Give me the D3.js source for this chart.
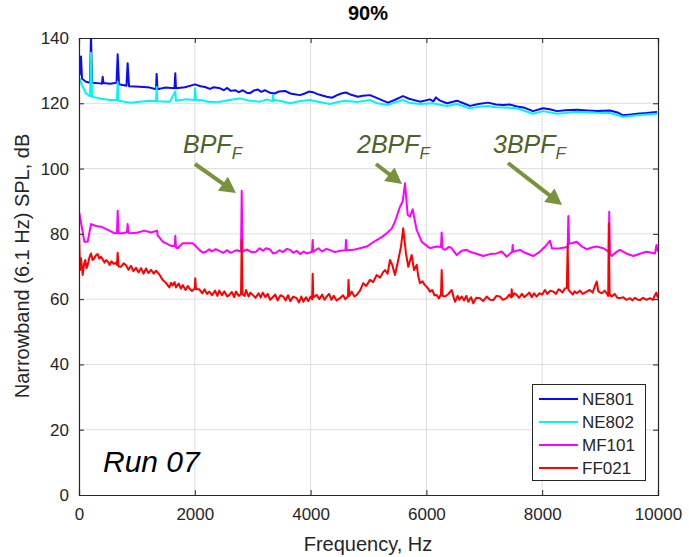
<!DOCTYPE html>
<html><head><meta charset="utf-8">
<script src="https://cdn.jsdelivr.net/npm/d3@7/dist/d3.min.js"></script>
<style>body{margin:0;background:#fff}svg{display:block}</style>
</head><body>
<script>
const seriesNames = ["NE801","NE802","MF101","FF021"];
const seriesColors = ["#0a0aff","#00f5f5","#ff00ff","#ff0000"];
const xTicks = [0,2000,4000,6000,8000,10000];
const yTicks = [0,20,40,60,80,100,120,140];

const ne801F = [10,35,52,121,190,207,225,363,397,409,423,535,648,668,691,820,840,864,1053,1226,1330,1341,1356,1485,1649,1663,1675,1830,2003,2100,2176,2260,2330,2435,2500,2560,2620,2694,2760,2830,2900,2953,3020,3091,3150,3210,3299,3380,3450,3558,3650,3720,3817,3900,3970,4041,4120,4200,4280,4369,4450,4530,4611,4700,4818,4900,5026,5150,5250,5336,5450,5595,5700,5889,6062,6120,6165,6235,6355,6528,6640,6753,6900,7064,7200,7322,7450,7564,7700,7840,8013,8130,8255,8400,8600,8780,8946,9170,9300,9395,9500,9637,9800,9983];
const ne801V = [128.5,134.3,127.5,126.6,126.3,141,126.3,126.1,126.0,128.1,126.2,126.0,126.3,135.0,125.8,125.4,132.3,125.2,125.1,124.8,124.3,129.0,124.3,124.8,124.6,129.2,124.6,124.9,125.8,125.2,125.0,124.4,124.9,124.6,124.0,124.7,123.8,124.0,123.4,124.0,123.2,123.1,123.9,124.2,123.5,124.0,123.2,123.0,123.6,123.8,123.0,122.8,122.5,123.0,123.6,123.4,122.8,122.4,122.0,121.7,122.4,123.0,123.3,122.6,122.0,122.3,122.5,121.6,120.8,120.2,121.0,122.2,121.4,120.5,121.2,120.6,121.8,120.8,120.0,120.8,120.0,119.2,119.8,120.2,119.6,119.5,119.6,119.0,118.6,117.6,118.5,118.2,117.6,117.9,118.0,117.8,117.6,117.8,117.2,116.3,116.5,116.8,117.0,117.3];

const ne802F = [10,52,121,190,207,225,363,535,656,668,682,881,1053,1226,1333,1341,1352,1572,1663,1675,1830,1995,2003,2020,2090,2250,2435,2600,2780,2950,3126,3250,3340,3350,3360,3385,3500,3644,3800,3989,4150,4335,4450,4594,4800,5026,5150,5336,5450,5595,5700,5889,6100,6355,6528,6753,6900,7064,7200,7322,7564,7840,8013,8255,8400,8600,8946,9170,9395,9637,9983];
const ne802V = [127.7,125.5,123.0,122.2,135.5,122.0,121.5,121.0,121.0,126.6,120.8,120.2,120.5,120.8,120.6,125.0,120.6,120.5,123.6,120.8,121.2,121.0,124.6,121.0,121.0,120.4,120.5,121.0,121.5,120.8,120.5,121.2,120.6,122.5,120.6,121.0,120.6,120.0,120.6,121.0,120.4,119.8,120.3,120.8,120.4,121.0,120.0,119.5,120.2,121.0,120.2,119.8,120.0,119.2,119.8,118.5,118.9,119.2,118.8,118.7,118.5,116.8,117.6,116.8,117.0,117.4,117.1,117.0,115.9,116.3,116.8];

const mf101F = [5,92,150,207,294,380,496,610,656,668,682,755,829,840,855,898,1014,1128,1243,1347,1359,1445,1589,1654,1663,1675,1705,1791,1964,2078,2140,2193,2250,2297,2360,2423,2490,2560,2610,2654,2720,2798,2810,2824,2900,2980,3057,3120,3180,3229,3300,3350,3402,3460,3520,3590,3644,3700,3760,3820,3880,3932,4024,4036,4046,4133,4200,4270,4335,4420,4507,4602,4611,4623,4737,4850,4969,5060,5141,5230,5314,5400,5457,5544,5590,5630,5677,5716,5763,5832,5918,6000,6062,6177,6252,6264,6278,6321,6390,6437,6523,6610,6696,6753,6850,6982,7100,7214,7300,7386,7481,7490,7500,7616,7700,7846,7950,8020,8077,8134,8169,8307,8440,8452,8465,8509,8595,8680,8768,8860,8941,9055,9150,9158,9170,9200,9280,9343,9450,9573,9700,9804,9948,9973,10000];
const mf101V = [86.5,77.6,77.6,83.0,82.4,82.2,81.2,80.2,80.2,87.1,80.2,80.2,80.5,83.0,80.3,80.2,80.4,81.0,80.4,81.0,79.5,77.6,76.3,76.3,79.4,75.8,75.6,77.1,77.1,75.1,74.2,74.5,75.3,74.6,75.3,74.8,74.2,75.0,74.2,74.5,75.0,74.6,93.2,74.6,75.2,74.4,74.5,75.6,74.8,75.6,75.2,74.0,74.2,75.0,74.4,75.4,75.1,74.2,74.8,73.8,74.6,74.0,74.5,78.1,74.5,75.6,74.6,75.4,75.0,74.4,74.8,75.0,78.1,75.0,75.1,75.6,76.1,77.2,78.1,79.0,80.2,81.6,83.7,88.3,89.9,95.5,85.8,85.3,87.5,81.2,77.6,76.4,75.6,76.1,76.0,80.4,75.5,75.1,76.0,75.6,73.5,74.8,75.1,74.5,74.0,73.2,73.8,74.0,74.6,73.0,74.5,76.6,74.5,75.1,74.2,73.2,74.4,75.6,76.6,77.9,75.5,75.6,76.0,85.5,77.0,77.1,77.6,76.2,75.3,75.8,76.1,75.6,74.5,86.8,74.0,73.2,74.4,75.1,74.0,73.2,74.0,74.5,74.0,76.6,74.5];

const ff021F = [0,17,35,64,90,109,130,150,180,207,235,264,295,323,350,380,409,440,470,496,530,560,600,640,656,668,682,725,770,812,855,898,940,984,1030,1071,1115,1157,1200,1243,1290,1330,1390,1445,1500,1560,1590,1618,1650,1675,1720,1760,1791,1840,1880,1905,1950,2000,2008,2021,2078,2130,2170,2210,2250,2300,2350,2390,2423,2470,2510,2560,2596,2640,2680,2711,2760,2798,2810,2824,2860,2884,2930,2960,3000,3050,3100,3140,3173,3220,3260,3300,3345,3390,3430,3480,3528,3570,3610,3650,3700,3760,3800,3840,3874,3920,3960,4000,4027,4036,4046,4105,4150,4200,4240,4278,4320,4360,4400,4450,4507,4560,4600,4646,4654,4670,4710,4756,4796,4850,4910,4960,5026,5080,5141,5200,5250,5285,5330,5371,5410,5457,5514,5561,5600,5647,5687,5746,5786,5832,5860,5889,5930,5975,6020,6062,6100,6140,6177,6215,6252,6264,6278,6321,6380,6437,6470,6494,6540,6570,6609,6650,6690,6723,6770,6810,6860,6925,6980,7041,7100,7155,7210,7271,7320,7386,7430,7464,7473,7487,7520,7559,7600,7650,7690,7732,7780,7820,7860,7904,7950,8000,8048,8090,8140,8191,8240,8280,8307,8350,8393,8425,8440,8452,8480,8530,8560,8595,8650,8700,8768,8820,8870,8910,8941,8970,9027,9080,9113,9140,9150,9165,9200,9250,9300,9343,9400,9450,9516,9560,9600,9650,9689,9740,9800,9861,9910,9948,9970,10000];
const ff021V = [81.2,68.9,72.5,67.4,71.0,72.0,69.5,70.5,72.8,74.0,72.0,72.5,73.5,73.8,72.4,73.0,72.2,71.2,72.0,71.5,70.5,71.6,70.8,71.2,70.5,74.2,70.0,69.9,71.0,70.4,69.0,70.2,68.6,69.6,68.2,69.5,67.8,69.4,68.0,69.0,67.8,68.7,67.5,65.9,65.0,63.6,65.0,64.2,65.2,63.6,64.8,63.2,64.3,62.8,64.0,63.3,62.5,63.3,66.4,63.0,63.0,61.8,63.0,61.6,62.3,61.2,62.6,61.0,62.6,61.2,62.4,60.8,61.3,62.2,60.6,62.3,61.0,61.5,78.1,61.5,61.0,62.8,60.8,62.0,61.3,60.4,61.8,60.5,62.0,60.6,61.6,59.8,60.6,61.4,59.6,61.2,60.8,59.6,61.2,59.4,60.8,60.3,59.0,60.8,59.2,60.6,59.4,60.8,60.0,67.8,60.5,61.3,60.0,61.4,59.8,60.8,61.6,59.8,61.0,59.6,60.3,61.2,60.0,60.8,65.9,61.0,62.3,60.8,61.3,62.5,64.9,64.0,65.9,65.2,67.4,66.6,68.2,68.9,67.8,72.0,70.5,67.4,72.0,76.1,81.7,74.0,69.9,73.5,68.9,70.5,67.0,64.9,65.5,64.3,63.5,62.3,62.8,61.2,61.3,60.2,61.5,68.9,61.0,60.8,61.6,62.8,60.6,59.2,61.0,59.8,60.8,59.6,61.0,59.2,60.6,58.7,60.4,60.3,59.4,60.8,59.8,59.7,61.0,60.8,59.8,60.3,61.4,60.5,63.0,60.8,61.8,61.3,60.4,61.6,60.6,61.3,62.0,60.6,61.8,60.8,61.8,61.4,62.8,61.6,62.6,62.3,61.6,63.0,62.8,62.0,63.3,63.5,76.6,63.0,62.3,61.4,62.4,61.8,62.6,61.6,62.3,62.8,62.0,64.0,65.4,62.4,61.8,62.6,61.8,61.0,83.2,61.5,60.8,61.6,60.4,60.3,60.6,59.8,60.3,59.6,60.4,59.8,59.7,60.4,59.8,60.3,59.8,61.3,62.0,60.3];

const annotations = [
  {label:"BPF", pre:"", x:183, y:153, ax1:195, ay1:164, ax2:236, ay2:193},
  {label:"BPF", pre:"2", x:357, y:153, ax1:376, ay1:164, ax2:402, ay2:184},
  {label:"BPF", pre:"3", x:493, y:153, ax1:508, ay1:163, ax2:562, ay2:205}
];

const W = 689, H = 557;
const M = {left:79, right:658, top:38, bottom:495};
const font = "Helvetica, 'Liberation Sans', Arial, sans-serif";
const axisColor = "#262626";

const svg = d3.select("body").append("svg").attr("width",W).attr("height",H);
const x = d3.scaleLinear().domain([0,10000]).range([M.left,M.right]);
const y = d3.scaleLinear().domain([0,140]).range([M.bottom,M.top]);

// grid
svg.append("g").selectAll("line").data(xTicks.slice(1,-1)).join("line")
  .attr("x1",d=>x(d)).attr("x2",d=>x(d)).attr("y1",M.top).attr("y2",M.bottom)
  .attr("stroke","#dedede").attr("stroke-width",1);
svg.append("g").selectAll("line").data(yTicks.slice(1,-1)).join("line")
  .attr("y1",d=>y(d)).attr("y2",d=>y(d)).attr("x1",M.left).attr("x2",M.right)
  .attr("stroke","#dedede").attr("stroke-width",1);

// data
svg.append("clipPath").attr("id","clip").append("rect")
  .attr("x",M.left).attr("y",M.top).attr("width",M.right-M.left).attr("height",M.bottom-M.top);
const series = [[ne801F,ne801V],[ne802F,ne802V],[mf101F,mf101V],[ff021F,ff021V]];
const line = d3.line().x(d=>x(d[0])).y(d=>y(d[1]));
const gData = svg.append("g").attr("clip-path","url(#clip)");
series.forEach((s,i)=>{
  const pts = s[0].map((f,j)=>[f,s[1][j]]);
  gData.append("path").datum(pts).attr("d",line).attr("fill","none")
    .attr("stroke",seriesColors[i]).attr("stroke-width",2).attr("stroke-linejoin","round");
});

// axes
const xAxis = svg.append("g").attr("transform",`translate(0,${M.bottom})`)
  .call(d3.axisBottom(x).tickValues(xTicks).tickSize(-5).tickPadding(13).tickFormat(d3.format("d")));
const xAxisTop = svg.append("g").attr("transform",`translate(0,${M.top})`)
  .call(d3.axisTop(x).tickValues(xTicks).tickSize(-5).tickFormat(""));
const yAxis = svg.append("g").attr("transform",`translate(${M.left},0)`)
  .call(d3.axisLeft(y).tickValues(yTicks).tickSize(-5).tickPadding(10));
const yAxisR = svg.append("g").attr("transform",`translate(${M.right},0)`)
  .call(d3.axisRight(y).tickValues(yTicks).tickSize(-5).tickFormat(""));
[xAxis,xAxisTop,yAxis,yAxisR].forEach(g=>{
  g.select(".domain").attr("stroke",axisColor).attr("stroke-width",1.2);
  g.selectAll(".tick line").attr("stroke",axisColor);
  g.selectAll(".tick text").attr("fill",axisColor).style("font-family",font).style("font-size","17px");
});

// labels
svg.append("text").attr("x",368).attr("y",20).attr("text-anchor","middle")
  .style("font-family",font).style("font-size","20px").style("font-weight","bold").attr("fill","#000").text("90%");
svg.append("text").attr("x",368).attr("y",551).attr("text-anchor","middle")
  .style("font-family",font).style("font-size","20px").attr("fill",axisColor).text("Frequency, Hz");
svg.append("text").attr("transform","translate(29,266) rotate(-90)").attr("text-anchor","middle")
  .style("font-family",font).style("font-size","20px").attr("fill",axisColor).text("Narrowband (6.1 Hz) SPL, dB");
svg.append("text").attr("x",103).attr("y",472).style("font-family",font).style("font-size","30px")
  .style("font-style","italic").attr("fill","#000").text("Run 07");

// annotations
const annColor = "#4f6228", arrowColor = "#77933c";
annotations.forEach(a=>{
  const t = svg.append("text").attr("x",a.x).attr("y",a.y).style("font-family",font)
    .style("font-style","italic").attr("fill",annColor);
  t.append("tspan").style("font-size","25px").text(a.pre + a.label);
  t.append("tspan").style("font-size","17px").attr("dy",6).text("F");
  const dx = a.ax2-a.ax1, dy = a.ay2-a.ay1, L = Math.hypot(dx,dy);
  const ux = dx/L, uy = dy/L, hl = 16, hw = 8.5;
  const bx = a.ax2-ux*hl, by = a.ay2-uy*hl;
  svg.append("line").attr("x1",a.ax1).attr("y1",a.ay1).attr("x2",bx+ux*2).attr("y2",by+uy*2)
    .attr("stroke",arrowColor).attr("stroke-width",4);
  svg.append("polygon").attr("points",[[a.ax2,a.ay2],[bx-uy*hw,by+ux*hw],[bx+uy*hw,by-ux*hw]].map(p=>p.join(",")).join(" "))
    .attr("fill",arrowColor);
});

// legend
const lg = svg.append("g");
lg.append("rect").attr("x",532.5).attr("y",384.5).attr("width",113).attr("height",96)
  .attr("fill","#fff").attr("stroke",axisColor).attr("stroke-width",1);
seriesNames.forEach((n,i)=>{
  const yy = 399 + i*23;
  lg.append("line").attr("x1",539).attr("x2",578).attr("y1",yy).attr("y2",yy)
    .attr("stroke",seriesColors[i]).attr("stroke-width",2);
  lg.append("text").attr("x",582).attr("y",yy+6).style("font-family",font).style("font-size","17px")
    .attr("fill",axisColor).text(n);
});
</script>
</body></html>
